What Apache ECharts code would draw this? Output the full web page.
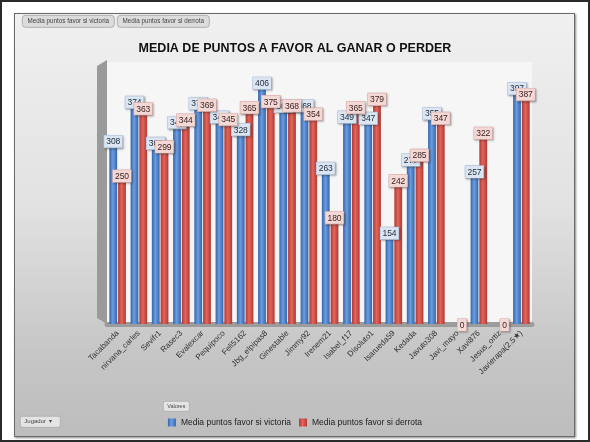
<!DOCTYPE html>
<html><head><meta charset="utf-8">
<script src="https://cdn.jsdelivr.net/npm/echarts@6/dist/echarts.min.js"></script>
<style>
html,body{margin:0;padding:0;background:#fff;}
#wrap{position:relative;width:590px;height:442px;box-sizing:border-box;border:2px solid #2a2a2a;background:#fff;}
#panel{position:absolute;left:12px;top:11px;width:561px;height:424px;box-sizing:border-box;border:1px solid #6a6a6a;
background:linear-gradient(to bottom,#f0f0f0 0%,#e2e2e2 45%,#c6c6c6 80%,#bdbdbd 100%);box-shadow:1px 1px 2px #888;}
#c{position:absolute;left:-2px;top:-2px;width:590px;height:442px;}
</style></head><body>
<div id="wrap"><div id="panel"></div><div id="c"></div></div>
<script>
const categories=['Tacabanda','nirvana_carles','Sevifr1','Rasec3','Evalexcar','Pequipoco','Feli5162','Jbg_elpipas8','Ginestable','Jimmy92','Irenem21','Isabel_f17','Disoluto1','Isarueda59','Kedada','Javuto308','Javi_mayo','Xavi876','Jesus_ortiz','Javierapa(2.5\u2605)'];
const victoria=[308,374,305,340,372,349,328,406,367,368,263,349,347,154,277,355,null,257,null,397];
const derrota=[250,363,299,344,369,345,365,375,368,354,180,365,379,242,285,347,0,322,0,387];
const seriesNames=['Media puntos favor si victoria','Media puntos favor si derrota'];

const chart=echarts.init(document.getElementById('c'),null,{renderer:'canvas'});
const F='"Liberation Sans", Arial, sans-serif';
function grad(a,b){return new echarts.graphic.LinearGradient(0,0,1,0,[{offset:0,color:a},{offset:0.45,color:b},{offset:1,color:a}]);}
chart.setOption({
  backgroundColor:'transparent',
  animation:false,
  title:{text:'MEDIA DE PUNTOS A FAVOR AL GANAR O PERDER',left:'center',top:37,
    textStyle:{fontFamily:F,fontSize:12.5,fontWeight:'bold',color:'#111'}},
  legend:{bottom:10,left:'center',itemWidth:8,itemHeight:8,itemGap:8,icon:'rect',
    textStyle:{fontFamily:F,fontSize:8.5,color:'#222'},data:seriesNames},
  grid:{left:107,right:58,top:62,bottom:118,show:true,backgroundColor:'#f6f6f6',borderWidth:0},
  xAxis:{type:'category',data:categories,
    axisLine:{show:true,lineStyle:{color:'#9c9c9c',width:5}},axisTick:{show:false},
    axisLabel:{rotate:45,interval:0,fontFamily:F,fontSize:8,color:'#333',margin:8}},
  yAxis:{type:'value',min:0,max:440,show:false,splitLine:{show:false}},
  graphic:[
    {type:'polygon',z:-1,shape:{points:[[97,66],[107,60],[107,324],[97,318]]},style:{fill:'#9a9a9a'}},
    {type:'group',left:22,top:15,children:[
      {type:'rect',shape:{x:0,y:0,width:92,height:12,r:3},style:{fill:'#dcdcdc',stroke:'#9a9a9a',lineWidth:0.7}},
      {type:'text',style:{x:46,y:6,text:seriesNames[0],fontFamily:F,fontSize:6.3,fill:'#444',align:'center',verticalAlign:'middle'}},
      {type:'rect',shape:{x:95,y:0,width:92,height:12,r:3},style:{fill:'#dcdcdc',stroke:'#9a9a9a',lineWidth:0.7}},
      {type:'text',style:{x:141,y:6,text:seriesNames[1],fontFamily:F,fontSize:6.3,fill:'#444',align:'center',verticalAlign:'middle'}}
    ]},
    {type:'group',left:163,top:401,children:[
      {type:'rect',shape:{x:0,y:0,width:26,height:10,r:2},style:{fill:'#e4e4e4',stroke:'#a0a0a0',lineWidth:0.6}},
      {type:'text',style:{x:13,y:5,text:'Valores',fontFamily:F,fontSize:5.5,fill:'#444',align:'center',verticalAlign:'middle'}}
    ]},
    {type:'group',left:20,top:416,children:[
      {type:'rect',shape:{x:0,y:0,width:40,height:11,r:2},style:{fill:'#e4e4e4',stroke:'#a0a0a0',lineWidth:0.6}},
      {type:'text',style:{x:4,y:5.5,text:'Jugador  \u25BE',fontFamily:F,fontSize:6,fill:'#444',align:'left',verticalAlign:'middle'}}
    ]}
  ],
  series:[
    {name:seriesNames[0],type:'bar',data:victoria,barGap:'12%',barCategoryGap:'22%',
     itemStyle:{color:grad('#3566ad','#6b9de0')},
     label:{show:true,position:'top',distance:-7,fontFamily:F,fontSize:8.5,color:'#1d2a3a',
       backgroundColor:'#dce6f3',borderColor:'#b3c7e3',borderWidth:0.6,padding:[2,2,1,2],
       shadowColor:'rgba(0,0,0,0.25)',shadowBlur:2,shadowOffsetX:1,shadowOffsetY:1}},
    {name:seriesNames[1],type:'bar',data:derrota,
     itemStyle:{color:grad('#b13a33','#e2665c')},
     label:{show:true,position:'top',distance:-7,fontFamily:F,fontSize:8.5,color:'#3a1d1d',
       backgroundColor:'#f3d9d6',borderColor:'#e2b1ad',borderWidth:0.6,padding:[2,2,1,2],
       shadowColor:'rgba(0,0,0,0.25)',shadowBlur:2,shadowOffsetX:1,shadowOffsetY:1}}
  ],
  color:['#4a7ec8','#cf4b42']
});
</script></body></html>
